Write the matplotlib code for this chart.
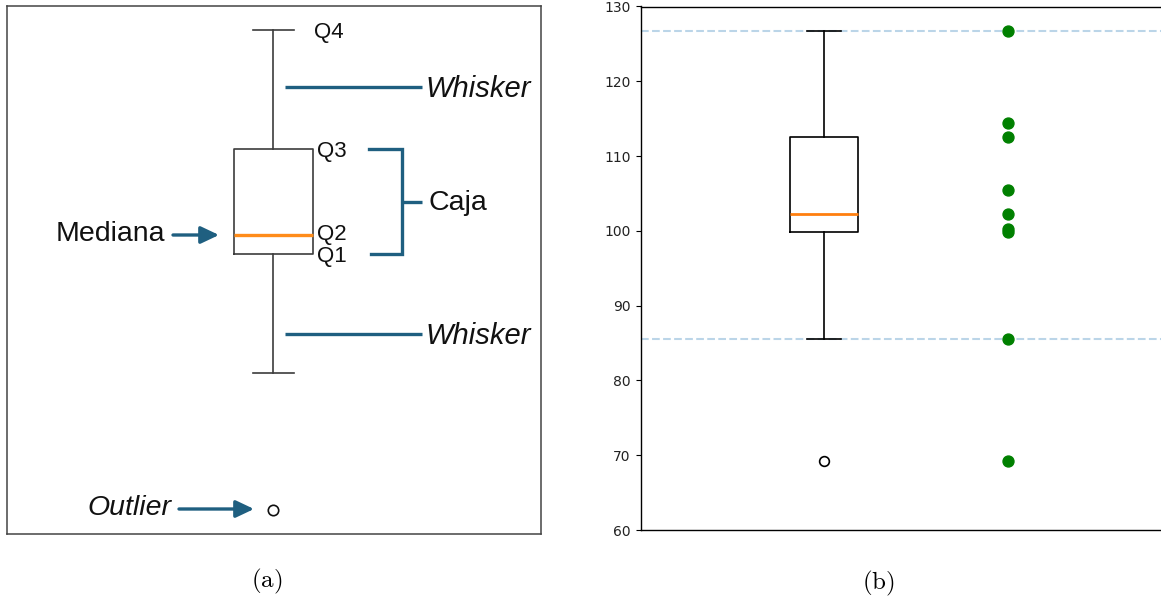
import matplotlib
matplotlib.use("Agg")
import matplotlib.pyplot as plt
from matplotlib import cbook

plt.rcParams["mathtext.fontset"] = "cm"

# ---- data -------------------------------------------------------------
# schematic panel (a): quartile positions of an illustrative box plot
schem_q4 = 504
schem_q3 = 385
schem_q2 = 299
schem_q1 = 280
schem_whislo = 161
schem_outlier = 24
q_labels = ["Q4", "Q3", "Q2", "Q1"]

# panel (b): sample values
values = [126.7, 114.4, 112.6, 105.5, 102.3, 100.2, 99.9, 85.6, 69.2]
yticks_b = [60, 70, 80, 90, 100, 110, 120, 130]

W, H = 1161, 598
fig = plt.figure(figsize=(W / 100, H / 100), dpi=100)

BLUE = "#1f5f80"
INK = "#111111"
GREY = "#3c3c3c"
SANS = "Liberation Sans"

# ---- panel (a): annotated schematic ------------------------------------
L, R, T, B = 7, 541, 5.5, 534
axa = fig.add_axes([L / W, (H - B) / H, (R - L) / W, (B - T) / H])
axa.set_xlim(0, R - L)
axa.set_ylim(0, B - T)
axa.set_xticks([])
axa.set_yticks([])
for s in axa.spines.values():
    s.set_color("#444444")
    s.set_linewidth(1.1)

xpos = 266
stats = [dict(med=schem_q2, q1=schem_q1, q3=schem_q3,
              whislo=schem_whislo, whishi=schem_q4, fliers=[schem_outlier])]
axa.bxp(stats, positions=[xpos], widths=79, capwidths=41,
        manage_ticks=False,
        boxprops=dict(color=GREY, lw=1.2),
        whiskerprops=dict(color=GREY, lw=1.2),
        capprops=dict(color=GREY, lw=1.2),
        medianprops=dict(color="#ff8c1a", lw=2.4),
        flierprops=dict(marker="o", ms=7.5, mfc="none", mec=INK, mew=1.2))

# quartile labels
q_pos = [(307, schem_q4 - 8), (310, schem_q3 - 8),
         (310, schem_q2 - 5), (310, schem_q1 - 8)]
for lab, (x, y) in zip(q_labels, q_pos):
    axa.text(x, y, lab, fontsize=16, family=SANS, color=INK, va="baseline")

# whisker pointers
for y_line, y_txt in [(447, 437), (200, 190)]:
    axa.plot([278, 415], [y_line, y_line], color=BLUE, lw=2.4,
             solid_capstyle="butt")
    axa.text(418, y_txt, "Whisker", fontsize=21, family=SANS,
             style="italic", color=INK, va="baseline")

# bracket around the box
axa.plot([362, 395, 395, 364], [schem_q3, schem_q3, schem_q1, schem_q1],
         color=BLUE, lw=2.4, solid_joinstyle="miter")
ymid = (schem_q3 + schem_q1) / 2
axa.plot([395, 415], [ymid, ymid], color=BLUE, lw=2.4, solid_capstyle="butt")
axa.text(421, ymid - 9, "Caja", fontsize=20.5, family=SANS, color=INK,
         va="baseline")

arrow_kw = dict(arrowstyle="-|>,head_length=0.55,head_width=0.26",
                color=BLUE, lw=2.4, mutation_scale=20, shrinkA=0, shrinkB=0)
axa.annotate("", xy=(212, schem_q2), xytext=(166, schem_q2),
             arrowprops=arrow_kw)
axa.text(49, schem_q2 - 6, "Mediana", fontsize=20.5, family=SANS,
         color=INK, va="baseline")
axa.annotate("", xy=(247, schem_outlier + 1), xytext=(172, schem_outlier + 1),
             arrowprops=arrow_kw)
axa.text(80, schem_outlier - 5, "Outlier", fontsize=20.5, family=SANS,
         style="italic", color=INK, va="baseline")

# ---- panel (b): box plot with the raw points --------------------------
bL, bR, bT, bB = 640.5, 1192, 6.5, 530
axb = fig.add_axes([bL / W, (H - bB) / H, (bR - bL) / W, (bB - bT) / H])
axb.boxplot(values, positions=[1], widths=0.37, manage_ticks=False,
            boxprops=dict(color="black", lw=1.2),
            whiskerprops=dict(color="black", lw=1.2),
            capprops=dict(color="black", lw=1.2),
            medianprops=dict(color="#ff7f0e", lw=2.0),
            flierprops=dict(marker="o", ms=7, mfc="none", mec="black",
                            mew=1.2))
axb.scatter([2] * len(values), values, color="green", s=62, zorder=3)

st = cbook.boxplot_stats(values)[0]
for yv in (st["whishi"], st["whislo"]):
    axb.axhline(yv, ls="--", color="#1f77b4", alpha=0.3, lw=1.5, zorder=1)

axb.set_xlim(0, 3)
axb.set_ylim(60, 130)
axb.set_xticks([])
axb.set_yticks(yticks_b)
axb.tick_params(axis="y", labelsize=10, labelcolor="#222222")
axb.spines["right"].set_visible(False)
for s in axb.spines.values():
    s.set_linewidth(1.0)

# ---- captions ---------------------------------------------------------
fig.text(267 / W, 1 - 581 / H, r"$\mathrm{(a)}$", fontsize=18,
         ha="center", va="center")
fig.text(878 / W, 1 - 583 / H, r"$\mathrm{(b)}$", fontsize=18,
         ha="center", va="center")

fig.savefig("out.png", dpi=100)
